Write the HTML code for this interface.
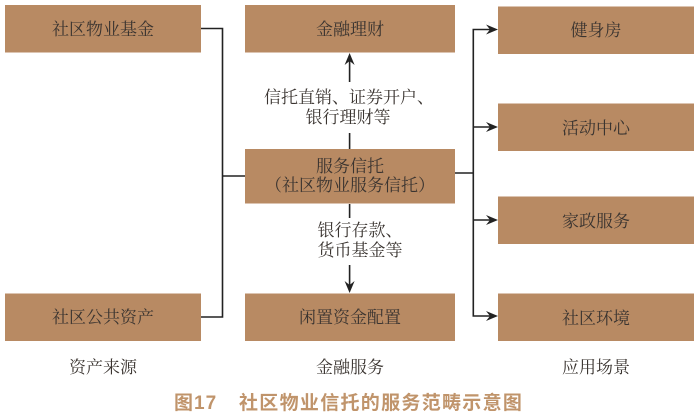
<!DOCTYPE html>
<html>
<head>
<meta charset="utf-8">
<style>
html,body{margin:0;padding:0;background:#fff;width:700px;height:415px;overflow:hidden}
svg{display:block}
text{font-family:"Liberation Serif","Noto Serif CJK SC",serif;font-size:17px;fill:#3a3430;text-anchor:middle}
.t{font-family:"Liberation Sans","Noto Sans CJK SC",sans-serif;font-size:19px;font-weight:bold;fill:#c0946b;text-anchor:start}
.l{stroke:#222;stroke-width:1.6;fill:none}
.a{fill:#222;stroke:none}
.b{fill:#b88a63}
</style>
</head>
<body>
<svg width="700" height="415" viewBox="0 0 700 415" xmlns="http://www.w3.org/2000/svg">
<rect class="b" x="5" y="5" width="196" height="47.5"/>
<rect class="b" x="245" y="5" width="210" height="47.5"/>
<rect class="b" x="245" y="149" width="210" height="54.5"/>
<rect class="b" x="5" y="293.5" width="196" height="47.5"/>
<rect class="b" x="245" y="293.5" width="210" height="47.5"/>
<rect class="b" x="498" y="6.5" width="196" height="47.5"/>
<rect class="b" x="498" y="103.5" width="196" height="47.5"/>
<rect class="b" x="498" y="196.5" width="196" height="47.5"/>
<rect class="b" x="498" y="293.5" width="196" height="47.5"/>

<path class="l" d="M201 28.5H222.5V317H201M222.5 176H245"/>
<path class="l" d="M455 173H473.3M495 29.5H473.3V316H495M473.3 127H495M473.3 220H495"/>
<path class="l" d="M349.6 60V82M349.6 133V149M349.6 204V218M349.6 265V287"/>

<path class="a" d="M498 29.5L486 24.5L490 29.5L486 34.5Z"/>
<path class="a" d="M498 127L486 122L490 127L486 132Z"/>
<path class="a" d="M498 220L486 215L490 220L486 225Z"/>
<path class="a" d="M498 316L486 311L490 316L486 321Z"/>
<path class="a" d="M349.6 53L344.6 65L349.6 61L354.6 65Z"/>
<path class="a" d="M349.6 293L344.6 281L349.6 285L354.6 281Z"/>

<text x="103" y="35">社区物业基金</text>
<text x="103" y="323">社区公共资产</text>
<text x="350" y="35">金融理财</text>
<text x="350" y="172">服务信托</text>
<text x="350" y="191">（社区物业服务信托）</text>
<text x="350" y="323">闲置资金配置</text>
<text x="596" y="36">健身房</text>
<text x="596" y="134">活动中心</text>
<text x="596" y="227">家政服务</text>
<text x="596" y="324">社区环境</text>
<text x="349" y="103">信托直销、证券开户、</text>
<text x="348" y="123">银行理财等</text>
<text x="360" y="236">银行存款、</text>
<text x="360" y="256">货币基金等</text>
<text x="103" y="373">资产来源</text>
<text x="350" y="373">金融服务</text>
<text x="596" y="373">应用场景</text>
<text class="t" x="174" y="409" letter-spacing="1">图17</text>
<text class="t" x="239" y="409" letter-spacing="1.3">社区物业信托的服务范畴示意图</text>
</svg>
</body>
</html>
